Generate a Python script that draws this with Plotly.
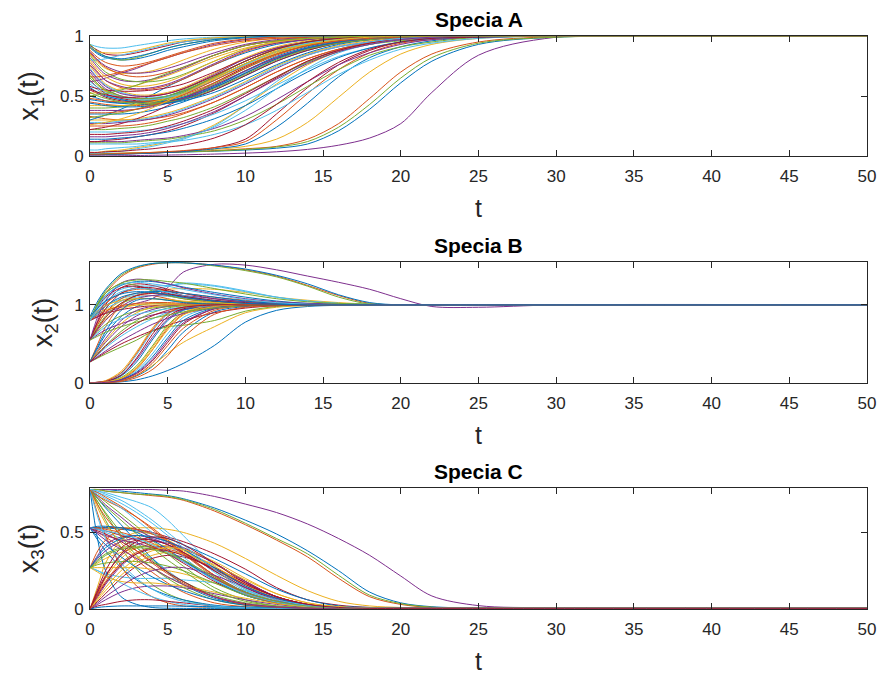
import plotly.graph_objects as go

# Sample times (shared by all trajectories)
T = [0, 0.5, 1, 2, 3, 4, 5, 6, 8, 10, 12, 14, 16, 18, 20, 22, 25, 30, 50]

# Species A, x1(t)
SPECIA_A = [
    [0.02, 0.02, 0.02, 0.022, 0.024, 0.026, 0.03, 0.033, 0.04, 0.05, 0.065, 0.10, 0.21, 0.39, 0.61, 0.79, 0.93, 0.99, 1],
    [0.02, 0.02, 0.02, 0.022, 0.025, 0.028, 0.032, 0.036, 0.045, 0.06, 0.08, 0.14, 0.27, 0.48, 0.70, 0.85, 0.95, 0.995, 1],
    [0.02, 0.02, 0.021, 0.023, 0.026, 0.03, 0.035, 0.04, 0.055, 0.08, 0.14, 0.28, 0.49, 0.70, 0.85, 0.93, 0.98, 1, 1],
    [0.0, 0.0, 0.001, 0.002, 0.004, 0.006, 0.008, 0.01, 0.016, 0.024, 0.035, 0.055, 0.09, 0.15, 0.27, 0.53, 0.84, 0.99, 1],
    [0.02, 0.02, 0.02, 0.022, 0.024, 0.027, 0.03, 0.034, 0.042, 0.055, 0.075, 0.12, 0.24, 0.43, 0.65, 0.82, 0.94, 0.99, 1],
    [0.02, 0.02, 0.03, 0.04, 0.06, 0.08, 0.11, 0.14, 0.25, 0.42, 0.62, 0.78, 0.89, 0.95, 0.98, 0.99, 1, 1, 1],
    [0.01, 0.01, 0.012, 0.015, 0.02, 0.025, 0.03, 0.04, 0.07, 0.14, 0.35, 0.57, 0.76, 0.88, 0.95, 0.98, 0.995, 1, 1],
    [0.01, 0.01, 0.012, 0.015, 0.019, 0.024, 0.03, 0.037, 0.06, 0.10, 0.24, 0.44, 0.66, 0.82, 0.91, 0.96, 0.99, 1, 1],
    [0.015, 0.015, 0.017, 0.02, 0.025, 0.03, 0.037, 0.045, 0.07, 0.12, 0.30, 0.52, 0.72, 0.86, 0.94, 0.97, 0.99, 1, 1],
    [0.03, 0.03, 0.04, 0.05, 0.07, 0.09, 0.12, 0.15, 0.26, 0.42, 0.60, 0.76, 0.87, 0.93, 0.97, 0.99, 1, 1, 1],
    [0.12, 0.12, 0.12, 0.12, 0.13, 0.14, 0.15, 0.17, 0.23, 0.33, 0.47, 0.62, 0.76, 0.86, 0.93, 0.97, 0.99, 1, 1],
    [0.11, 0.11, 0.11, 0.11, 0.12, 0.13, 0.14, 0.16, 0.21, 0.30, 0.43, 0.58, 0.72, 0.84, 0.91, 0.95, 0.99, 1, 1],
    [0.10, 0.10, 0.10, 0.10, 0.10, 0.11, 0.12, 0.13, 0.18, 0.26, 0.38, 0.53, 0.68, 0.80, 0.89, 0.94, 0.98, 1, 1],
    [0.12, 0.12, 0.13, 0.14, 0.16, 0.18, 0.21, 0.25, 0.36, 0.50, 0.65, 0.79, 0.88, 0.94, 0.97, 0.99, 1, 1, 1],
    [0.35, 0.35, 0.35, 0.35, 0.36, 0.38, 0.41, 0.45, 0.55, 0.67, 0.79, 0.88, 0.94, 0.97, 0.99, 1, 1, 1, 1],
    [0.33, 0.32, 0.31, 0.30, 0.30, 0.31, 0.33, 0.36, 0.45, 0.57, 0.70, 0.81, 0.89, 0.94, 0.97, 0.99, 1, 1, 1],
    [0.30, 0.30, 0.30, 0.30, 0.31, 0.33, 0.36, 0.40, 0.50, 0.62, 0.75, 0.85, 0.92, 0.96, 0.98, 0.99, 1, 1, 1],
    [0.27, 0.27, 0.27, 0.28, 0.29, 0.31, 0.34, 0.38, 0.48, 0.60, 0.73, 0.84, 0.91, 0.95, 0.98, 0.99, 1, 1, 1],
    [0.22, 0.22, 0.22, 0.23, 0.24, 0.26, 0.29, 0.32, 0.41, 0.53, 0.66, 0.78, 0.87, 0.93, 0.96, 0.98, 1, 1, 1],
    [0.20, 0.20, 0.20, 0.20, 0.21, 0.22, 0.24, 0.27, 0.35, 0.46, 0.59, 0.72, 0.83, 0.90, 0.95, 0.98, 0.99, 1, 1],
    [0.22, 0.23, 0.24, 0.27, 0.31, 0.36, 0.42, 0.48, 0.61, 0.74, 0.85, 0.92, 0.96, 0.98, 0.99, 1, 1, 1, 1],
    [0.30, 0.32, 0.34, 0.39, 0.45, 0.51, 0.58, 0.64, 0.76, 0.86, 0.93, 0.97, 0.99, 1, 1, 1, 1, 1, 1],
    [0.78, 0.70, 0.63, 0.57, 0.55, 0.56, 0.59, 0.64, 0.76, 0.87, 0.94, 0.97, 0.99, 1, 1, 1, 1, 1, 1],
    [0.75, 0.67, 0.60, 0.54, 0.51, 0.51, 0.53, 0.57, 0.69, 0.82, 0.91, 0.96, 0.98, 0.99, 1, 1, 1, 1, 1],
    [0.70, 0.62, 0.56, 0.50, 0.48, 0.48, 0.50, 0.54, 0.66, 0.79, 0.89, 0.95, 0.98, 0.99, 1, 1, 1, 1, 1],
    [0.65, 0.59, 0.54, 0.49, 0.47, 0.46, 0.47, 0.50, 0.60, 0.73, 0.85, 0.92, 0.96, 0.98, 0.99, 1, 1, 1, 1],
    [0.60, 0.55, 0.51, 0.47, 0.45, 0.45, 0.46, 0.48, 0.58, 0.70, 0.82, 0.90, 0.95, 0.98, 0.99, 1, 1, 1, 1],
    [0.55, 0.52, 0.49, 0.46, 0.45, 0.44, 0.45, 0.47, 0.55, 0.67, 0.79, 0.88, 0.94, 0.97, 0.99, 1, 1, 1, 1],
    [0.50, 0.48, 0.46, 0.44, 0.43, 0.43, 0.44, 0.46, 0.53, 0.64, 0.76, 0.86, 0.93, 0.97, 0.99, 1, 1, 1, 1],
    [0.45, 0.44, 0.43, 0.42, 0.42, 0.43, 0.45, 0.49, 0.59, 0.71, 0.82, 0.90, 0.95, 0.98, 0.99, 1, 1, 1, 1],
    [0.52, 0.53, 0.54, 0.56, 0.59, 0.63, 0.67, 0.72, 0.82, 0.90, 0.95, 0.98, 0.99, 1, 1, 1, 1, 1, 1],
    [0.62, 0.63, 0.65, 0.69, 0.73, 0.78, 0.82, 0.86, 0.93, 0.97, 0.99, 1, 1, 1, 1, 1, 1, 1, 1],
    [0.40, 0.40, 0.40, 0.41, 0.43, 0.46, 0.50, 0.55, 0.67, 0.79, 0.89, 0.95, 0.98, 0.99, 1, 1, 1, 1, 1],
    [0.93, 0.91, 0.90, 0.90, 0.92, 0.94, 0.96, 0.975, 0.99, 0.995, 1, 1, 1, 1, 1, 1, 1, 1, 1],
    [0.92, 0.88, 0.85, 0.84, 0.86, 0.89, 0.92, 0.95, 0.98, 0.99, 1, 1, 1, 1, 1, 1, 1, 1, 1],
    [0.90, 0.85, 0.82, 0.80, 0.81, 0.84, 0.88, 0.91, 0.96, 0.985, 0.995, 1, 1, 1, 1, 1, 1, 1, 1],
    [0.88, 0.82, 0.78, 0.75, 0.76, 0.79, 0.83, 0.87, 0.94, 0.975, 0.99, 1, 1, 1, 1, 1, 1, 1, 1],
    [0.85, 0.78, 0.73, 0.69, 0.69, 0.71, 0.75, 0.80, 0.89, 0.95, 0.98, 0.99, 1, 1, 1, 1, 1, 1, 1],
    [0.82, 0.74, 0.68, 0.63, 0.62, 0.64, 0.68, 0.73, 0.84, 0.92, 0.96, 0.985, 0.995, 1, 1, 1, 1, 1, 1],
    [0.93, 0.87, 0.83, 0.80, 0.82, 0.86, 0.90, 0.93, 0.97, 0.99, 1, 1, 1, 1, 1, 1, 1, 1, 1],
    [0.80, 0.80, 0.81, 0.84, 0.87, 0.90, 0.93, 0.95, 0.98, 0.99, 1, 1, 1, 1, 1, 1, 1, 1, 1],
    [0.58, 0.56, 0.55, 0.54, 0.54, 0.55, 0.57, 0.60, 0.70, 0.81, 0.90, 0.95, 0.98, 0.99, 1, 1, 1, 1, 1],
    [0.47, 0.46, 0.45, 0.44, 0.45, 0.47, 0.50, 0.54, 0.65, 0.77, 0.87, 0.94, 0.97, 0.99, 1, 1, 1, 1, 1],
    [0.25, 0.25, 0.25, 0.25, 0.26, 0.28, 0.31, 0.35, 0.45, 0.57, 0.70, 0.81, 0.89, 0.94, 0.97, 0.99, 1, 1, 1],
    [0.68, 0.60, 0.54, 0.49, 0.47, 0.47, 0.49, 0.53, 0.64, 0.77, 0.88, 0.94, 0.97, 0.99, 1, 1, 1, 1, 1],
    [0.87, 0.80, 0.75, 0.70, 0.69, 0.70, 0.73, 0.77, 0.86, 0.93, 0.97, 0.99, 1, 1, 1, 1, 1, 1, 1],
    [0.84, 0.76, 0.70, 0.64, 0.62, 0.62, 0.64, 0.68, 0.79, 0.89, 0.95, 0.98, 0.99, 1, 1, 1, 1, 1, 1],
    [0.73, 0.65, 0.59, 0.53, 0.50, 0.49, 0.50, 0.53, 0.63, 0.76, 0.87, 0.94, 0.97, 0.99, 1, 1, 1, 1, 1],
    [0.63, 0.57, 0.52, 0.48, 0.46, 0.45, 0.46, 0.48, 0.57, 0.69, 0.81, 0.89, 0.95, 0.98, 0.99, 1, 1, 1, 1],
    [0.57, 0.53, 0.50, 0.47, 0.45, 0.45, 0.46, 0.49, 0.58, 0.71, 0.83, 0.91, 0.96, 0.98, 0.99, 1, 1, 1, 1],
    [0.48, 0.47, 0.46, 0.45, 0.45, 0.46, 0.48, 0.51, 0.61, 0.73, 0.84, 0.92, 0.96, 0.98, 0.99, 1, 1, 1, 1],
    [0.42, 0.42, 0.42, 0.42, 0.43, 0.45, 0.48, 0.52, 0.63, 0.75, 0.86, 0.93, 0.97, 0.99, 1, 1, 1, 1, 1],
    [0.38, 0.38, 0.38, 0.38, 0.39, 0.41, 0.44, 0.48, 0.59, 0.71, 0.82, 0.90, 0.95, 0.98, 0.99, 1, 1, 1, 1],
    [0.32, 0.33, 0.34, 0.36, 0.39, 0.43, 0.48, 0.53, 0.65, 0.77, 0.87, 0.93, 0.97, 0.99, 1, 1, 1, 1, 1],
    [0.28, 0.28, 0.28, 0.29, 0.30, 0.32, 0.35, 0.39, 0.49, 0.61, 0.74, 0.84, 0.91, 0.95, 0.98, 0.99, 1, 1, 1],
    [0.18, 0.18, 0.18, 0.19, 0.20, 0.22, 0.25, 0.29, 0.39, 0.52, 0.66, 0.79, 0.88, 0.94, 0.97, 0.99, 1, 1, 1],
    [0.14, 0.14, 0.14, 0.15, 0.16, 0.18, 0.20, 0.23, 0.31, 0.42, 0.56, 0.70, 0.82, 0.90, 0.95, 0.98, 0.99, 1, 1],
    [0.66, 0.66, 0.67, 0.70, 0.74, 0.78, 0.82, 0.86, 0.92, 0.96, 0.98, 0.99, 1, 1, 1, 1, 1, 1, 1],
    [0.90, 0.87, 0.86, 0.86, 0.88, 0.91, 0.94, 0.96, 0.985, 0.995, 1, 1, 1, 1, 1, 1, 1, 1, 1],
    [0.76, 0.69, 0.63, 0.58, 0.56, 0.57, 0.60, 0.65, 0.77, 0.88, 0.94, 0.97, 0.99, 1, 1, 1, 1, 1, 1],
    [0.53, 0.50, 0.48, 0.45, 0.44, 0.44, 0.45, 0.47, 0.56, 0.68, 0.80, 0.89, 0.94, 0.97, 0.99, 1, 1, 1, 1],
    [0.05, 0.05, 0.06, 0.07, 0.08, 0.10, 0.12, 0.15, 0.24, 0.38, 0.56, 0.73, 0.86, 0.93, 0.97, 0.99, 1, 1, 1],
    [0.03, 0.03, 0.035, 0.04, 0.05, 0.06, 0.075, 0.09, 0.15, 0.26, 0.43, 0.62, 0.78, 0.89, 0.95, 0.98, 0.99, 1, 1],
    [0.91, 0.86, 0.83, 0.81, 0.83, 0.86, 0.90, 0.93, 0.97, 0.99, 1, 1, 1, 1, 1, 1, 1, 1, 1],
    [0.86, 0.79, 0.74, 0.68, 0.66, 0.67, 0.70, 0.74, 0.84, 0.92, 0.96, 0.98, 0.99, 1, 1, 1, 1, 1, 1],
    [0.80, 0.72, 0.66, 0.60, 0.58, 0.59, 0.62, 0.67, 0.79, 0.89, 0.95, 0.98, 0.99, 1, 1, 1, 1, 1, 1],
    [0.72, 0.64, 0.58, 0.52, 0.50, 0.50, 0.52, 0.56, 0.68, 0.81, 0.90, 0.95, 0.98, 0.99, 1, 1, 1, 1, 1],
    [0.67, 0.60, 0.55, 0.50, 0.48, 0.48, 0.50, 0.54, 0.66, 0.79, 0.89, 0.95, 0.98, 0.99, 1, 1, 1, 1, 1],
    [0.62, 0.57, 0.53, 0.49, 0.47, 0.47, 0.49, 0.52, 0.63, 0.76, 0.87, 0.94, 0.97, 0.99, 1, 1, 1, 1, 1],
    [0.56, 0.53, 0.51, 0.49, 0.49, 0.50, 0.52, 0.56, 0.67, 0.79, 0.89, 0.95, 0.98, 0.99, 1, 1, 1, 1, 1],
    [0.44, 0.43, 0.42, 0.41, 0.41, 0.42, 0.44, 0.47, 0.57, 0.69, 0.81, 0.90, 0.95, 0.98, 0.99, 1, 1, 1, 1],
    [0.36, 0.36, 0.36, 0.37, 0.39, 0.42, 0.46, 0.51, 0.63, 0.75, 0.85, 0.92, 0.96, 0.98, 0.99, 1, 1, 1, 1],
    [0.26, 0.27, 0.28, 0.31, 0.35, 0.40, 0.46, 0.52, 0.65, 0.77, 0.87, 0.93, 0.97, 0.99, 1, 1, 1, 1, 1],
    [0.16, 0.16, 0.16, 0.17, 0.18, 0.20, 0.23, 0.27, 0.37, 0.50, 0.64, 0.77, 0.87, 0.93, 0.97, 0.99, 1, 1, 1],
    [0.50, 0.51, 0.52, 0.55, 0.59, 0.64, 0.69, 0.74, 0.84, 0.92, 0.96, 0.98, 0.99, 1, 1, 1, 1, 1, 1],
]

# Species B, x2(t)
SPECIA_B = [
    [0, 0.002, 0.005, 0.015, 0.04, 0.09, 0.16, 0.25, 0.48, 0.78, 0.93, 0.98, 0.995, 1, 1, 1, 1, 1, 1],
    [0.80, 1.0, 1.15, 1.36, 1.47, 1.52, 1.54, 1.54, 1.51, 1.45, 1.37, 1.25, 1.12, 1.02, 1.0, 1, 1, 1, 1],
    [0.55, 0.75, 0.90, 1.05, 1.12, 1.17, 1.20, 1.21, 1.20, 1.16, 1.10, 1.06, 1.03, 1.01, 1, 1, 1, 1, 1],
    [0.80, 0.85, 0.90, 0.97, 1.02, 1.08, 1.22, 1.42, 1.52, 1.51, 1.45, 1.37, 1.29, 1.20, 1.08, 0.98, 0.97, 1.0, 1],
    [0.80, 1.02, 1.18, 1.38, 1.48, 1.53, 1.54, 1.54, 1.50, 1.44, 1.36, 1.24, 1.10, 1.01, 1.0, 1, 1, 1, 1],
    [0.80, 0.90, 0.98, 1.08, 1.13, 1.18, 1.24, 1.28, 1.25, 1.18, 1.10, 1.05, 1.02, 1.01, 1, 1, 1, 1, 1],
    [0.55, 0.80, 1.0, 1.22, 1.27, 1.25, 1.20, 1.15, 1.08, 1.04, 1.02, 1.01, 1, 1, 1, 1, 1, 1, 1],
    [0.85, 1.05, 1.20, 1.40, 1.49, 1.53, 1.54, 1.54, 1.51, 1.46, 1.38, 1.27, 1.13, 1.03, 1.0, 1, 1, 1, 1],
    [0.55, 0.75, 0.90, 1.08, 1.15, 1.15, 1.12, 1.08, 1.03, 1.01, 1, 1, 1, 1, 1, 1, 1, 1, 1],
    [0, 0.01, 0.03, 0.15, 0.40, 0.70, 0.90, 0.97, 1, 1, 1, 1, 1, 1, 1, 1, 1, 1, 1],
    [0, 0.01, 0.02, 0.10, 0.30, 0.58, 0.82, 0.94, 0.99, 1, 1, 1, 1, 1, 1, 1, 1, 1, 1],
    [0, 0.005, 0.015, 0.07, 0.22, 0.47, 0.74, 0.90, 0.98, 1, 1, 1, 1, 1, 1, 1, 1, 1, 1],
    [0, 0.005, 0.01, 0.05, 0.16, 0.37, 0.63, 0.84, 0.97, 0.995, 1, 1, 1, 1, 1, 1, 1, 1, 1],
    [0, 0.004, 0.008, 0.04, 0.12, 0.28, 0.52, 0.75, 0.95, 0.99, 1, 1, 1, 1, 1, 1, 1, 1, 1],
    [0, 0.003, 0.006, 0.03, 0.09, 0.21, 0.42, 0.65, 0.91, 0.98, 1, 1, 1, 1, 1, 1, 1, 1, 1],
    [0, 0.004, 0.01, 0.05, 0.18, 0.42, 0.70, 0.88, 0.98, 1, 1, 1, 1, 1, 1, 1, 1, 1, 1],
    [0, 0.003, 0.008, 0.035, 0.10, 0.22, 0.38, 0.52, 0.72, 0.90, 0.97, 0.99, 1, 1, 1, 1, 1, 1, 1],
    [0.27, 0.40, 0.52, 0.72, 0.86, 0.94, 0.98, 1, 1, 1, 1, 1, 1, 1, 1, 1, 1, 1, 1],
    [0.27, 0.32, 0.37, 0.46, 0.55, 0.66, 0.72, 0.74, 0.80, 0.92, 0.98, 1, 1, 1, 1, 1, 1, 1, 1],
    [0.27, 0.36, 0.45, 0.60, 0.72, 0.82, 0.90, 0.95, 0.99, 1, 1, 1, 1, 1, 1, 1, 1, 1, 1],
    [0.27, 0.33, 0.39, 0.50, 0.59, 0.67, 0.74, 0.80, 0.90, 0.96, 0.99, 1, 1, 1, 1, 1, 1, 1, 1],
    [0.27, 0.45, 0.62, 0.85, 0.98, 1.02, 1.01, 1, 1, 1, 1, 1, 1, 1, 1, 1, 1, 1, 1],
    [0.27, 0.50, 0.72, 1.0, 1.12, 1.12, 1.08, 1.04, 1.01, 1, 1, 1, 1, 1, 1, 1, 1, 1, 1],
    [0.55, 0.70, 0.82, 0.95, 1.0, 1.02, 1.02, 1.01, 1, 1, 1, 1, 1, 1, 1, 1, 1, 1, 1],
    [0.55, 0.62, 0.68, 0.76, 0.82, 0.87, 0.91, 0.94, 0.98, 1, 1, 1, 1, 1, 1, 1, 1, 1, 1],
    [0.55, 0.66, 0.75, 0.86, 0.92, 0.96, 0.98, 0.99, 1, 1, 1, 1, 1, 1, 1, 1, 1, 1, 1],
    [0.80, 0.88, 0.95, 1.05, 1.10, 1.12, 1.11, 1.09, 1.05, 1.02, 1.01, 1, 1, 1, 1, 1, 1, 1, 1],
    [0.80, 0.85, 0.89, 0.94, 0.97, 0.99, 1, 1, 1, 1, 1, 1, 1, 1, 1, 1, 1, 1, 1],
    [0.80, 1.0, 1.12, 1.25, 1.30, 1.30, 1.27, 1.23, 1.16, 1.10, 1.05, 1.02, 1.01, 1, 1, 1, 1, 1, 1],
    [0.80, 0.92, 1.02, 1.15, 1.20, 1.20, 1.18, 1.15, 1.10, 1.06, 1.03, 1.01, 1, 1, 1, 1, 1, 1, 1],
    [0.85, 0.90, 0.94, 0.98, 1.0, 1.0, 1, 1, 1, 1, 1, 1, 1, 1, 1, 1, 1, 1, 1],
    [0.27, 0.42, 0.57, 0.80, 0.93, 0.98, 0.99, 1, 1, 1, 1, 1, 1, 1, 1, 1, 1, 1, 1],
    [0.80, 1.0, 1.15, 1.27, 1.25, 1.18, 1.12, 1.08, 1.04, 1.02, 1.01, 1, 1, 1, 1, 1, 1, 1, 1],
    [0, 0.008, 0.02, 0.12, 0.36, 0.66, 0.88, 0.96, 0.995, 1, 1, 1, 1, 1, 1, 1, 1, 1, 1],
    [0.55, 0.78, 0.95, 1.15, 1.22, 1.22, 1.18, 1.12, 1.05, 1.02, 1.01, 1, 1, 1, 1, 1, 1, 1, 1],
    [0, 0.006, 0.015, 0.09, 0.27, 0.55, 0.80, 0.93, 0.99, 1, 1, 1, 1, 1, 1, 1, 1, 1, 1],
    [0, 0.003, 0.007, 0.03, 0.10, 0.25, 0.48, 0.70, 0.93, 0.99, 1, 1, 1, 1, 1, 1, 1, 1, 1],
    [0, 0.005, 0.012, 0.06, 0.20, 0.45, 0.72, 0.90, 1.0, 1.01, 1, 1, 1, 1, 1, 1, 1, 1, 1],
    [0.55, 0.68, 0.80, 0.98, 1.08, 1.12, 1.13, 1.12, 1.08, 1.04, 1.02, 1.01, 1, 1, 1, 1, 1, 1, 1],
    [0.27, 0.38, 0.48, 0.66, 0.80, 0.90, 0.96, 0.99, 1, 1, 1, 1, 1, 1, 1, 1, 1, 1, 1],
    [0.80, 0.95, 1.08, 1.20, 1.24, 1.24, 1.25, 1.27, 1.24, 1.17, 1.10, 1.05, 1.02, 1, 1, 1, 1, 1, 1],
    [0, 0.007, 0.018, 0.10, 0.32, 0.62, 0.85, 0.95, 0.99, 1, 1, 1, 1, 1, 1, 1, 1, 1, 1],
    [0, 0.004, 0.009, 0.045, 0.14, 0.33, 0.58, 0.80, 0.96, 0.99, 1, 1, 1, 1, 1, 1, 1, 1, 1],
    [0, 0.002, 0.005, 0.02, 0.07, 0.17, 0.35, 0.58, 0.88, 0.97, 0.99, 1, 1, 1, 1, 1, 1, 1, 1],
    [0.27, 0.41, 0.54, 0.76, 0.90, 0.97, 1.0, 1, 1, 1, 1, 1, 1, 1, 1, 1, 1, 1, 1],
    [0.27, 0.34, 0.41, 0.54, 0.65, 0.75, 0.83, 0.89, 0.96, 0.99, 1, 1, 1, 1, 1, 1, 1, 1, 1],
    [0.55, 0.72, 0.86, 1.02, 1.08, 1.08, 1.06, 1.04, 1.02, 1.01, 1, 1, 1, 1, 1, 1, 1, 1, 1],
    [0.55, 0.64, 0.72, 0.82, 0.88, 0.92, 0.95, 0.97, 0.99, 1, 1, 1, 1, 1, 1, 1, 1, 1, 1],
    [0.80, 0.97, 1.10, 1.22, 1.24, 1.20, 1.15, 1.10, 1.05, 1.02, 1.01, 1, 1, 1, 1, 1, 1, 1, 1],
    [0.80, 0.90, 0.99, 1.10, 1.15, 1.17, 1.17, 1.15, 1.10, 1.05, 1.02, 1.01, 1, 1, 1, 1, 1, 1, 1],
    [0.80, 0.87, 0.92, 0.99, 1.02, 1.03, 1.03, 1.02, 1.01, 1, 1, 1, 1, 1, 1, 1, 1, 1, 1],
    [0.85, 0.93, 0.99, 1.06, 1.08, 1.08, 1.07, 1.05, 1.03, 1.01, 1, 1, 1, 1, 1, 1, 1, 1, 1],
    [0.55, 0.85, 1.05, 1.28, 1.33, 1.31, 1.27, 1.22, 1.14, 1.08, 1.04, 1.02, 1.01, 1, 1, 1, 1, 1, 1],
    [0.80, 1.02, 1.15, 1.28, 1.32, 1.32, 1.30, 1.28, 1.21, 1.14, 1.08, 1.04, 1.02, 1.01, 1, 1, 1, 1, 1],
    [0.80, 0.93, 1.04, 1.17, 1.21, 1.20, 1.16, 1.12, 1.06, 1.03, 1.01, 1, 1, 1, 1, 1, 1, 1, 1],
    [0.55, 0.70, 0.84, 1.02, 1.12, 1.15, 1.14, 1.11, 1.06, 1.03, 1.01, 1, 1, 1, 1, 1, 1, 1, 1],
    [0.27, 0.47, 0.66, 0.93, 1.06, 1.08, 1.06, 1.03, 1.01, 1, 1, 1, 1, 1, 1, 1, 1, 1, 1],
    [0, 0.01, 0.025, 0.13, 0.38, 0.68, 0.89, 0.97, 1, 1, 1, 1, 1, 1, 1, 1, 1, 1, 1],
    [0, 0.005, 0.012, 0.06, 0.19, 0.42, 0.68, 0.87, 0.98, 1, 1, 1, 1, 1, 1, 1, 1, 1, 1],
    [0, 0.003, 0.008, 0.04, 0.13, 0.30, 0.55, 0.77, 0.95, 0.99, 1, 1, 1, 1, 1, 1, 1, 1, 1],
    [0.55, 0.60, 0.65, 0.72, 0.78, 0.83, 0.87, 0.91, 0.96, 0.99, 1, 1, 1, 1, 1, 1, 1, 1, 1],
    [0.80, 0.98, 1.12, 1.26, 1.29, 1.27, 1.24, 1.20, 1.13, 1.07, 1.03, 1.01, 1, 1, 1, 1, 1, 1, 1],
    [0.27, 0.37, 0.47, 0.63, 0.76, 0.86, 0.93, 0.97, 1, 1, 1, 1, 1, 1, 1, 1, 1, 1, 1],
    [0.85, 0.96, 1.05, 1.14, 1.17, 1.16, 1.13, 1.10, 1.05, 1.02, 1.01, 1, 1, 1, 1, 1, 1, 1, 1],
]

# Species C, x3(t)
SPECIA_C = [
    [0.78, 0.78, 0.78, 0.77, 0.76, 0.75, 0.74, 0.72, 0.66, 0.58, 0.49, 0.38, 0.25, 0.11, 0.04, 0.015, 0.006, 0.004, 0.004],
    [0.78, 0.78, 0.77, 0.76, 0.75, 0.74, 0.73, 0.71, 0.64, 0.55, 0.45, 0.34, 0.20, 0.08, 0.03, 0.01, 0.005, 0.004, 0.004],
    [0.53, 0.53, 0.53, 0.53, 0.53, 0.53, 0.52, 0.50, 0.43, 0.33, 0.22, 0.12, 0.05, 0.02, 0.01, 0.005, 0.004, 0.004, 0.004],
    [0.78, 0.78, 0.78, 0.78, 0.78, 0.78, 0.775, 0.77, 0.735, 0.685, 0.63, 0.555, 0.46, 0.35, 0.215, 0.085, 0.022, 0.008, 0.005],
    [0.78, 0.78, 0.77, 0.76, 0.75, 0.745, 0.735, 0.715, 0.65, 0.56, 0.46, 0.36, 0.22, 0.09, 0.035, 0.012, 0.005, 0.004, 0.004],
    [0.78, 0.77, 0.76, 0.73, 0.70, 0.66, 0.58, 0.48, 0.28, 0.13, 0.05, 0.02, 0.01, 0.008, 0.008, 0.008, 0.008, 0.008, 0.008],
    [0.53, 0.53, 0.53, 0.53, 0.52, 0.50, 0.47, 0.44, 0.36, 0.26, 0.14, 0.06, 0.025, 0.01, 0.005, 0.004, 0.004, 0.004, 0.004],
    [0.53, 0.53, 0.53, 0.52, 0.51, 0.49, 0.46, 0.42, 0.33, 0.23, 0.13, 0.06, 0.02, 0.01, 0.005, 0.004, 0.004, 0.004, 0.004],
    [0.78, 0.62, 0.48, 0.28, 0.15, 0.08, 0.04, 0.02, 0.01, 0.005, 0.004, 0.004, 0.004, 0.004, 0.004, 0.004, 0.004, 0.004, 0.004],
    [0.27, 0.30, 0.33, 0.37, 0.40, 0.41, 0.40, 0.37, 0.27, 0.16, 0.08, 0.03, 0.01, 0.005, 0.004, 0.004, 0.004, 0.004, 0.004],
    [0, 0.08, 0.16, 0.28, 0.36, 0.40, 0.41, 0.39, 0.30, 0.18, 0.08, 0.03, 0.01, 0.005, 0.004, 0.004, 0.004, 0.004, 0.004],
    [0.78, 0.68, 0.58, 0.40, 0.26, 0.16, 0.10, 0.06, 0.02, 0.01, 0.005, 0.004, 0.004, 0.004, 0.004, 0.004, 0.004, 0.004, 0.004],
    [0.53, 0.52, 0.50, 0.46, 0.40, 0.33, 0.25, 0.18, 0.08, 0.03, 0.012, 0.008, 0.008, 0.008, 0.008, 0.008, 0.008, 0.008, 0.008],
    [0, 0.12, 0.22, 0.35, 0.42, 0.44, 0.43, 0.40, 0.30, 0.18, 0.08, 0.03, 0.01, 0.005, 0.004, 0.004, 0.004, 0.004, 0.004],
    [0.78, 0.72, 0.66, 0.55, 0.44, 0.33, 0.24, 0.16, 0.07, 0.03, 0.01, 0.005, 0.004, 0.004, 0.004, 0.004, 0.004, 0.004, 0.004],
    [0.53, 0.50, 0.47, 0.40, 0.32, 0.24, 0.17, 0.11, 0.04, 0.015, 0.006, 0.004, 0.004, 0.004, 0.004, 0.004, 0.004, 0.004, 0.004],
    [0, 0.15, 0.30, 0.45, 0.50, 0.49, 0.45, 0.39, 0.25, 0.13, 0.05, 0.02, 0.01, 0.005, 0.004, 0.004, 0.004, 0.004, 0.004],
    [0.27, 0.35, 0.42, 0.47, 0.48, 0.46, 0.42, 0.36, 0.22, 0.11, 0.04, 0.015, 0.006, 0.004, 0.004, 0.004, 0.004, 0.004, 0.004],
    [0.78, 0.74, 0.70, 0.62, 0.54, 0.45, 0.36, 0.28, 0.14, 0.06, 0.02, 0.01, 0.005, 0.004, 0.004, 0.004, 0.004, 0.004, 0.004],
    [0.27, 0.25, 0.23, 0.21, 0.20, 0.20, 0.20, 0.19, 0.17, 0.12, 0.07, 0.03, 0.012, 0.008, 0.008, 0.008, 0.008, 0.008, 0.008],
    [0, 0.05, 0.10, 0.20, 0.28, 0.33, 0.35, 0.34, 0.27, 0.17, 0.08, 0.03, 0.01, 0.005, 0.004, 0.004, 0.004, 0.004, 0.004],
    [0.78, 0.45, 0.25, 0.08, 0.03, 0.01, 0.005, 0.004, 0.004, 0.004, 0.004, 0.004, 0.004, 0.004, 0.004, 0.004, 0.004, 0.004, 0.004],
    [0.53, 0.53, 0.52, 0.50, 0.47, 0.43, 0.38, 0.32, 0.20, 0.11, 0.05, 0.02, 0.01, 0.005, 0.004, 0.004, 0.004, 0.004, 0.004],
    [0.27, 0.27, 0.27, 0.27, 0.27, 0.26, 0.25, 0.23, 0.17, 0.10, 0.05, 0.02, 0.01, 0.005, 0.004, 0.004, 0.004, 0.004, 0.004],
    [0, 0.03, 0.06, 0.11, 0.14, 0.15, 0.15, 0.14, 0.10, 0.06, 0.03, 0.01, 0.005, 0.004, 0.004, 0.004, 0.004, 0.004, 0.004],
    [0.78, 0.70, 0.63, 0.50, 0.40, 0.32, 0.24, 0.18, 0.09, 0.04, 0.015, 0.006, 0.004, 0.004, 0.004, 0.004, 0.004, 0.004, 0.004],
    [0.27, 0.25, 0.22, 0.17, 0.12, 0.08, 0.05, 0.03, 0.01, 0.008, 0.008, 0.008, 0.008, 0.008, 0.008, 0.008, 0.008, 0.008, 0.008],
    [0, 0.02, 0.03, 0.05, 0.06, 0.06, 0.05, 0.04, 0.02, 0.01, 0.005, 0.004, 0.004, 0.004, 0.004, 0.004, 0.004, 0.004, 0.004],
    [0.53, 0.45, 0.38, 0.27, 0.19, 0.13, 0.09, 0.06, 0.025, 0.01, 0.005, 0.004, 0.004, 0.004, 0.004, 0.004, 0.004, 0.004, 0.004],
    [0.78, 0.74, 0.71, 0.66, 0.60, 0.53, 0.45, 0.37, 0.22, 0.11, 0.05, 0.02, 0.008, 0.005, 0.004, 0.004, 0.004, 0.004, 0.004],
    [0, 0.10, 0.20, 0.33, 0.40, 0.42, 0.41, 0.38, 0.28, 0.16, 0.07, 0.03, 0.01, 0.005, 0.004, 0.004, 0.004, 0.004, 0.004],
    [0.78, 0.73, 0.68, 0.60, 0.52, 0.47, 0.44, 0.40, 0.30, 0.18, 0.08, 0.03, 0.01, 0.005, 0.004, 0.004, 0.004, 0.004, 0.004],
    [0.27, 0.32, 0.36, 0.40, 0.41, 0.40, 0.37, 0.32, 0.20, 0.10, 0.04, 0.015, 0.006, 0.004, 0.004, 0.004, 0.004, 0.004, 0.004],
    [0.78, 0.76, 0.74, 0.69, 0.63, 0.56, 0.48, 0.40, 0.24, 0.12, 0.05, 0.02, 0.008, 0.005, 0.004, 0.004, 0.004, 0.004, 0.004],
    [0.53, 0.52, 0.51, 0.48, 0.45, 0.41, 0.36, 0.30, 0.18, 0.09, 0.04, 0.015, 0.006, 0.004, 0.004, 0.004, 0.004, 0.004, 0.004],
    [0, 0.01, 0.015, 0.02, 0.02, 0.02, 0.02, 0.018, 0.015, 0.012, 0.01, 0.009, 0.008, 0.008, 0.008, 0.008, 0.008, 0.008, 0.008],
    [0.27, 0.38, 0.45, 0.52, 0.52, 0.49, 0.44, 0.37, 0.22, 0.10, 0.04, 0.015, 0.006, 0.004, 0.004, 0.004, 0.004, 0.004, 0.004],
    [0.78, 0.66, 0.56, 0.43, 0.34, 0.27, 0.21, 0.16, 0.08, 0.035, 0.015, 0.006, 0.004, 0.004, 0.004, 0.004, 0.004, 0.004, 0.004],
    [0.53, 0.50, 0.48, 0.45, 0.43, 0.40, 0.36, 0.31, 0.20, 0.11, 0.05, 0.02, 0.008, 0.005, 0.004, 0.004, 0.004, 0.004, 0.004],
    [0.78, 0.70, 0.62, 0.47, 0.35, 0.27, 0.20, 0.14, 0.06, 0.025, 0.01, 0.006, 0.004, 0.004, 0.004, 0.004, 0.004, 0.004, 0.004],
    [0.78, 0.75, 0.72, 0.66, 0.58, 0.50, 0.42, 0.34, 0.19, 0.09, 0.04, 0.015, 0.006, 0.004, 0.004, 0.004, 0.004, 0.004, 0.004],
    [0.53, 0.51, 0.49, 0.44, 0.38, 0.31, 0.24, 0.18, 0.08, 0.03, 0.012, 0.006, 0.004, 0.004, 0.004, 0.004, 0.004, 0.004, 0.004],
    [0.53, 0.54, 0.54, 0.53, 0.50, 0.45, 0.39, 0.32, 0.19, 0.09, 0.04, 0.015, 0.006, 0.004, 0.004, 0.004, 0.004, 0.004, 0.004],
    [0, 0.10, 0.18, 0.30, 0.37, 0.40, 0.39, 0.36, 0.26, 0.15, 0.07, 0.025, 0.008, 0.004, 0.004, 0.004, 0.004, 0.004, 0.004],
    [0, 0.06, 0.12, 0.22, 0.30, 0.35, 0.37, 0.36, 0.29, 0.19, 0.10, 0.04, 0.015, 0.006, 0.004, 0.004, 0.004, 0.004, 0.004],
    [0.27, 0.33, 0.38, 0.44, 0.46, 0.45, 0.42, 0.37, 0.25, 0.14, 0.06, 0.02, 0.008, 0.004, 0.004, 0.004, 0.004, 0.004, 0.004],
    [0.27, 0.29, 0.30, 0.31, 0.31, 0.30, 0.28, 0.25, 0.17, 0.09, 0.04, 0.015, 0.006, 0.004, 0.004, 0.004, 0.004, 0.004, 0.004],
    [0.78, 0.60, 0.46, 0.30, 0.20, 0.13, 0.08, 0.05, 0.02, 0.008, 0.004, 0.004, 0.004, 0.004, 0.004, 0.004, 0.004, 0.004, 0.004],
    [0, 0.13, 0.25, 0.40, 0.45, 0.45, 0.42, 0.37, 0.25, 0.14, 0.06, 0.02, 0.008, 0.004, 0.004, 0.004, 0.004, 0.004, 0.004],
    [0.53, 0.47, 0.42, 0.34, 0.27, 0.21, 0.16, 0.12, 0.06, 0.025, 0.01, 0.004, 0.004, 0.004, 0.004, 0.004, 0.004, 0.004, 0.004],
    [0.78, 0.76, 0.73, 0.67, 0.60, 0.52, 0.44, 0.36, 0.21, 0.10, 0.04, 0.015, 0.006, 0.004, 0.004, 0.004, 0.004, 0.004, 0.004],
    [0.27, 0.24, 0.21, 0.18, 0.17, 0.17, 0.16, 0.15, 0.11, 0.07, 0.035, 0.015, 0.006, 0.004, 0.004, 0.004, 0.004, 0.004, 0.004],
    [0, 0.04, 0.08, 0.15, 0.21, 0.25, 0.27, 0.27, 0.22, 0.14, 0.07, 0.03, 0.01, 0.004, 0.004, 0.004, 0.004, 0.004, 0.004],
    [0.78, 0.72, 0.67, 0.58, 0.49, 0.40, 0.32, 0.25, 0.12, 0.05, 0.02, 0.008, 0.004, 0.004, 0.004, 0.004, 0.004, 0.004, 0.004],
    [0.53, 0.52, 0.51, 0.49, 0.46, 0.42, 0.37, 0.31, 0.19, 0.10, 0.045, 0.018, 0.007, 0.004, 0.004, 0.004, 0.004, 0.004, 0.004],
    [0, 0.09, 0.17, 0.29, 0.36, 0.39, 0.38, 0.35, 0.26, 0.16, 0.08, 0.03, 0.01, 0.004, 0.004, 0.004, 0.004, 0.004, 0.004],
    [0.27, 0.34, 0.40, 0.46, 0.48, 0.47, 0.44, 0.39, 0.27, 0.15, 0.07, 0.025, 0.008, 0.004, 0.004, 0.004, 0.004, 0.004, 0.004],
    [0.78, 0.68, 0.60, 0.48, 0.38, 0.30, 0.23, 0.17, 0.08, 0.03, 0.012, 0.005, 0.004, 0.004, 0.004, 0.004, 0.004, 0.004, 0.004],
    [0, 0.07, 0.14, 0.25, 0.33, 0.38, 0.40, 0.39, 0.31, 0.20, 0.10, 0.04, 0.015, 0.006, 0.004, 0.004, 0.004, 0.004, 0.004],
    [0.53, 0.49, 0.45, 0.39, 0.33, 0.27, 0.21, 0.16, 0.08, 0.035, 0.014, 0.006, 0.004, 0.004, 0.004, 0.004, 0.004, 0.004, 0.004],
    [0.27, 0.31, 0.35, 0.39, 0.40, 0.39, 0.36, 0.32, 0.21, 0.11, 0.05, 0.02, 0.007, 0.004, 0.004, 0.004, 0.004, 0.004, 0.004],
    [0.78, 0.77, 0.75, 0.71, 0.65, 0.58, 0.50, 0.42, 0.26, 0.13, 0.06, 0.025, 0.01, 0.005, 0.004, 0.004, 0.004, 0.004, 0.004],
    [0, 0.11, 0.21, 0.36, 0.44, 0.47, 0.46, 0.42, 0.30, 0.17, 0.08, 0.03, 0.01, 0.004, 0.004, 0.004, 0.004, 0.004, 0.004],
]

PANEL_TITLES = ["Specia A", "Specia B", "Specia C"]
Y_LABELS = ["x<sub>1</sub>(t)", "x<sub>2</sub>(t)", "x<sub>3</sub>(t)"]
Y_RANGES = [[0, 1], [0, 1.55], [0, 0.79]]
Y_TICKS = [[0, 0.5, 1], [0, 1], [0, 0.5]]
Y_TICKTEXT = [["0", "0.5", "1"], ["0", "1"], ["0", "0.5"]]
X_TICKS = [0, 5, 10, 15, 20, 25, 30, 35, 40, 45, 50]

# MATLAB default line colour order
LINE_COLORS = ["#0072BD", "#D95319", "#EDB120", "#7E2F8E", "#77AC30", "#4DBEEE", "#A2142F"]

W, H = 882, 675
# plot areas in pixels: (left, right, top, bottom)
PANELS = [(90, 867, 36, 156), (90, 867, 262, 383), (90, 867, 488, 609)]

FONT = "Liberation Sans, Arial, Helvetica, sans-serif"
AX_COLOR = "#262626"

fig = go.Figure()
layout = dict(
    width=W, height=H,
    margin=dict(l=0, r=0, t=0, b=0, autoexpand=False),
    paper_bgcolor="white", plot_bgcolor="white",
    showlegend=False,
    font=dict(family=FONT, color=AX_COLOR, size=17),
    annotations=[],
)

for k, series in enumerate([SPECIA_A, SPECIA_B, SPECIA_C]):
    xa = "x" if k == 0 else f"x{k + 1}"
    ya = "y" if k == 0 else f"y{k + 1}"
    for i, ys in enumerate(series):
        fig.add_trace(go.Scatter(
            x=T, y=ys, mode="lines", xaxis=xa, yaxis=ya,
            line=dict(color=LINE_COLORS[i % 7], width=1, shape="spline", smoothing=0.9),
            hoverinfo="skip",
        ))
    l, r, t, b = PANELS[k]
    xdom = [l / W, r / W]
    ydom = [1 - b / H, 1 - t / H]
    xkey = "xaxis" if k == 0 else f"xaxis{k + 1}"
    ykey = "yaxis" if k == 0 else f"yaxis{k + 1}"
    layout[xkey] = dict(
        domain=xdom, anchor=ya, range=[0, 50], tickvals=X_TICKS,
        ticks="inside", ticklen=6, tickcolor=AX_COLOR, tickwidth=1,
        showline=True, linecolor=AX_COLOR, linewidth=1, mirror="ticks",
        showgrid=False, zeroline=False, automargin=False,
        tickfont=dict(size=17, family=FONT, color=AX_COLOR),
        ticklabelstandoff=5,
        title=dict(text="t", font=dict(size=25, family=FONT, color=AX_COLOR), standoff=14),
    )
    layout[ykey] = dict(
        domain=ydom, anchor=xa, range=Y_RANGES[k], tickvals=Y_TICKS[k], ticktext=Y_TICKTEXT[k],
        ticks="inside", ticklen=6, tickcolor=AX_COLOR, tickwidth=1,
        showline=True, linecolor=AX_COLOR, linewidth=1, mirror="ticks",
        showgrid=False, zeroline=False, automargin=False,
        tickfont=dict(size=17, family=FONT, color=AX_COLOR),
        ticklabelstandoff=2,
        title=dict(text=Y_LABELS[k], font=dict(size=27, family=FONT, color=AX_COLOR), standoff=13),
    )
    layout["annotations"].append(dict(
        text="<b>" + PANEL_TITLES[k] + "</b>", xref="paper", yref="paper",
        x=(xdom[0] + xdom[1]) / 2, y=ydom[1], xanchor="center", yanchor="bottom",
        yshift=3, showarrow=False, font=dict(size=21, family=FONT, color="#000000"),
    ))

fig.update_layout(**layout)
fig.write_html("out.html")
